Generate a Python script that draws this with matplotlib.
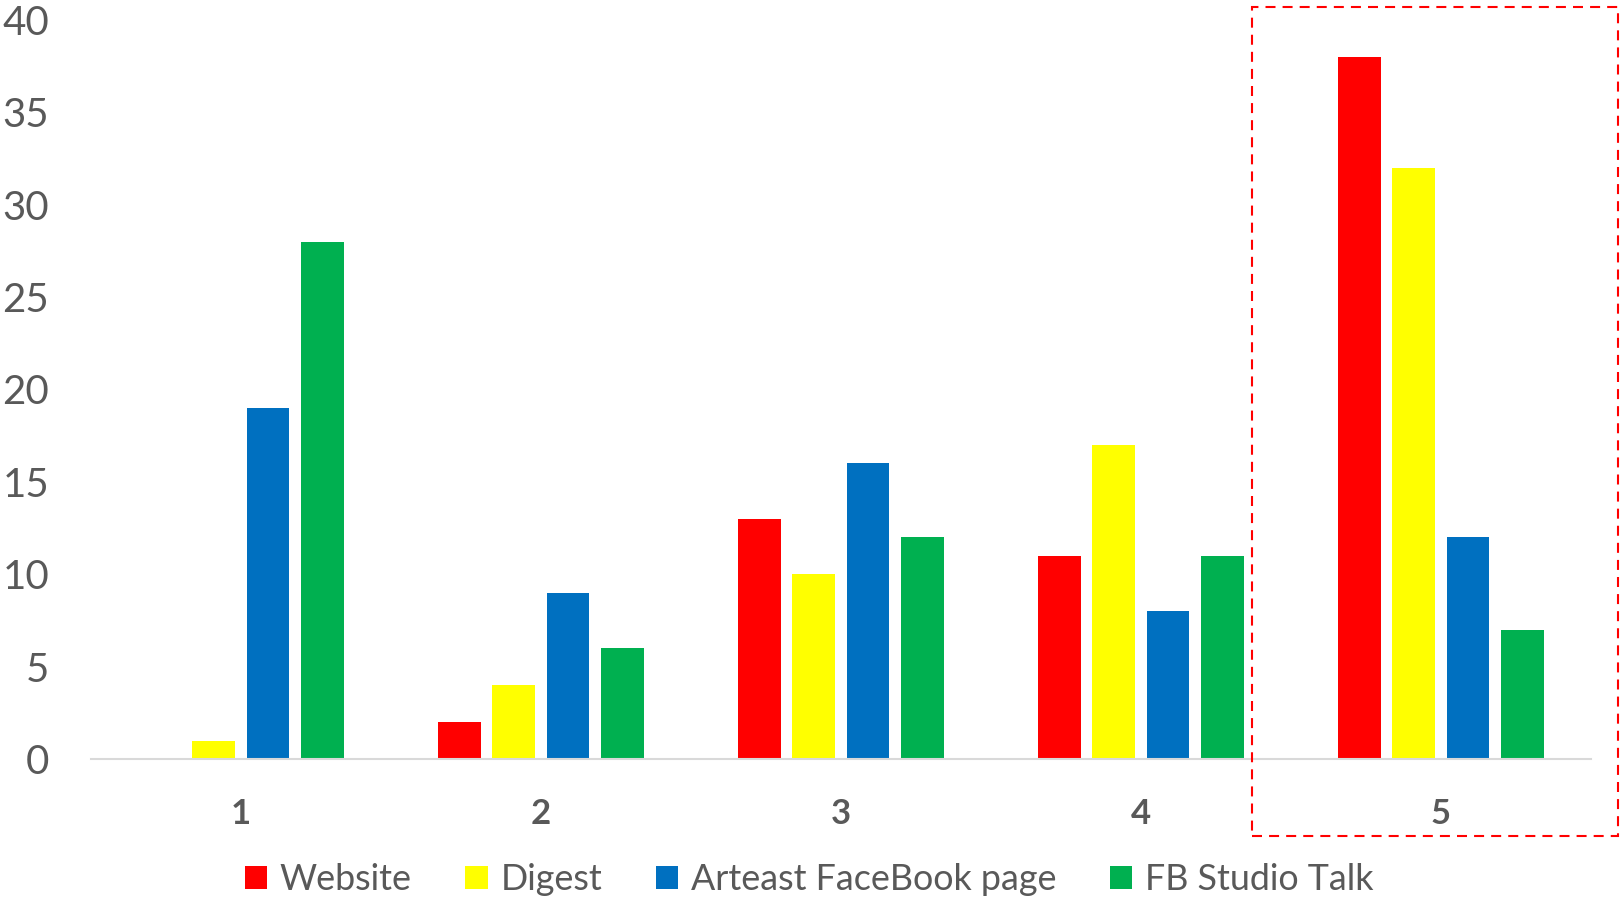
import matplotlib
matplotlib.use("Agg")
import matplotlib.pyplot as plt
from matplotlib.patches import Rectangle, Patch
import numpy as np

categories = ["1", "2", "3", "4", "5"]
series_names = ["Website", "Digest", "Arteast FaceBook page", "FB Studio Talk"]
website = [0, 2, 13, 11, 38]
digest = [1, 4, 10, 17, 32]
facebook = [19, 9, 16, 8, 12]
studio_talk = [28, 6, 12, 11, 7]
y_ticks = [0, 5, 10, 15, 20, 25, 30, 35, 40]

colors = ["#FF0000", "#FFFF00", "#0070C0", "#00B050"]
text_color = "#595959"

plt.rcParams['font.family'] = ['Lato', 'DejaVu Sans']

W, H = 1621, 898
fig = plt.figure(figsize=(W / 100, H / 100), dpi=100)
ax = fig.add_axes([91 / W, (H - 759) / H, (1590.7 - 91) / W, (759 - 20) / H])

x = np.arange(len(categories))
pitch = 0.181
width = 0.1424
all_series = [website, digest, facebook, studio_talk]
handles = []
for i, (vals, c, name) in enumerate(zip(all_series, colors, series_names)):
    offs = (i - 1.5) * pitch
    ax.bar(x + offs, vals, width=width, color=c, label=name, zorder=2)
    handles.append(Patch(facecolor=c, label=name))

ax.set_xlim(-0.5, len(categories) - 0.5)
ax.set_ylim(0, 40)
ax.set_yticks(y_ticks)
ax.set_yticklabels([str(t) for t in y_ticks])
ax.set_xticks(x)
ax.set_xticklabels(categories, fontweight='bold')
ax.tick_params(axis='y', length=0, pad=30, labelsize=29, labelcolor=text_color)
ax.tick_params(axis='x', length=0, pad=28, labelsize=25, labelcolor=text_color)
for s in ['top', 'right', 'left']:
    ax.spines[s].set_visible(False)
ax.spines['bottom'].set_color('#D9D9D9')
ax.spines['bottom'].set_linewidth(1.5)
ax.spines['bottom'].set_zorder(3)

leg = fig.legend(handles=handles, loc='center', bbox_to_anchor=(809 / W, 1 - 880 / H),
                 ncol=4, frameon=False, fontsize=25.8, handlelength=0.62, handleheight=0.62,
                 handletextpad=0.35, columnspacing=1.5, labelcolor=text_color,
                 borderpad=0, borderaxespad=0)

box = Rectangle((1251.7 / W, 1 - 836 / H), (1617.7 - 1251.7) / W, (836 - 7) / H,
                transform=fig.transFigure, fill=False, edgecolor='#FF0000',
                linewidth=1.5, linestyle=(0, (4.8, 3.4)))
fig.patches.append(box)

fig.savefig("out.png", dpi=100, facecolor='white')
